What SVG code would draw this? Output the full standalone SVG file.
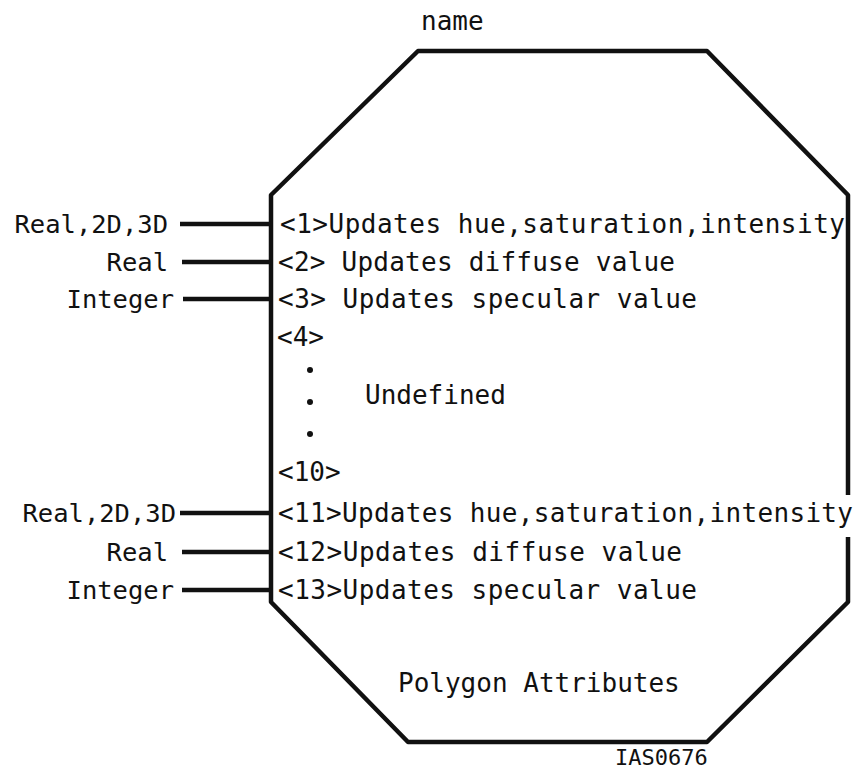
<svg xmlns="http://www.w3.org/2000/svg" width="858" height="769" viewBox="0 0 858 769">
<style>
text{font-family:"DejaVu Sans Mono","Liberation Mono",monospace;fill:#111;font-size:26px}
.lbl{text-anchor:end;font-size:25.5px}
.small{font-size:22px}
.edge{fill:none;stroke:#111;stroke-width:4.5;stroke-linejoin:round;stroke-linecap:butt}
.conn{stroke:#111;stroke-width:4.5}
</style>
<rect width="858" height="769" fill="#fff"/>
<g id="node-polygon-attributes">
<path class="edge" d="M848,537 L848,602 L707,742 L408,742 L271,602 L271,195 L418,51 L707,51 L848,195 L848,495"/>
<text x="421" y="30" font-size="25">name</text>
<text x="280" y="233" textLength="565" lengthAdjust="spacing">&lt;1&gt;Updates hue,saturation,intensity</text>
<text x="278" y="271" textLength="397" lengthAdjust="spacing">&lt;2&gt; Updates diffuse value</text>
<text x="278" y="308" textLength="419" lengthAdjust="spacing">&lt;3&gt; Updates specular value</text>
<text x="277" y="346">&lt;4&gt;</text>
<circle cx="310" cy="370" r="3" fill="#111"/>
<circle cx="310" cy="402" r="3" fill="#111"/>
<circle cx="310" cy="434" r="3" fill="#111"/>
<text x="365" y="404">Undefined</text>
<text x="278" y="481">&lt;10&gt;</text>
<text x="278" y="522" textLength="575" lengthAdjust="spacing">&lt;11&gt;Updates hue,saturation,intensity</text>
<text x="278" y="561" textLength="404" lengthAdjust="spacing">&lt;12&gt;Updates diffuse value</text>
<text x="278" y="599" textLength="419" lengthAdjust="spacing">&lt;13&gt;Updates specular value</text>
<text x="398" y="692">Polygon Attributes</text>
<text class="small" x="615" y="765">IAS0676</text>
</g>
<g id="inputs">
<text class="lbl" x="168" y="233">Real,2D,3D</text>
<text class="lbl" x="168" y="271">Real</text>
<text class="lbl" x="174" y="308">Integer</text>
<text class="lbl" x="176" y="522">Real,2D,3D</text>
<text class="lbl" x="168" y="561">Real</text>
<text class="lbl" x="174" y="599">Integer</text>
</g>
<g id="connectors">
<line class="conn" x1="180" y1="224" x2="271" y2="224"/>
<line class="conn" x1="182" y1="262" x2="271" y2="262"/>
<line class="conn" x1="183" y1="299" x2="271" y2="299"/>
<line class="conn" x1="180" y1="513" x2="271" y2="513"/>
<line class="conn" x1="182" y1="552" x2="271" y2="552"/>
<line class="conn" x1="182" y1="590" x2="271" y2="590"/>
</g>
</svg>
